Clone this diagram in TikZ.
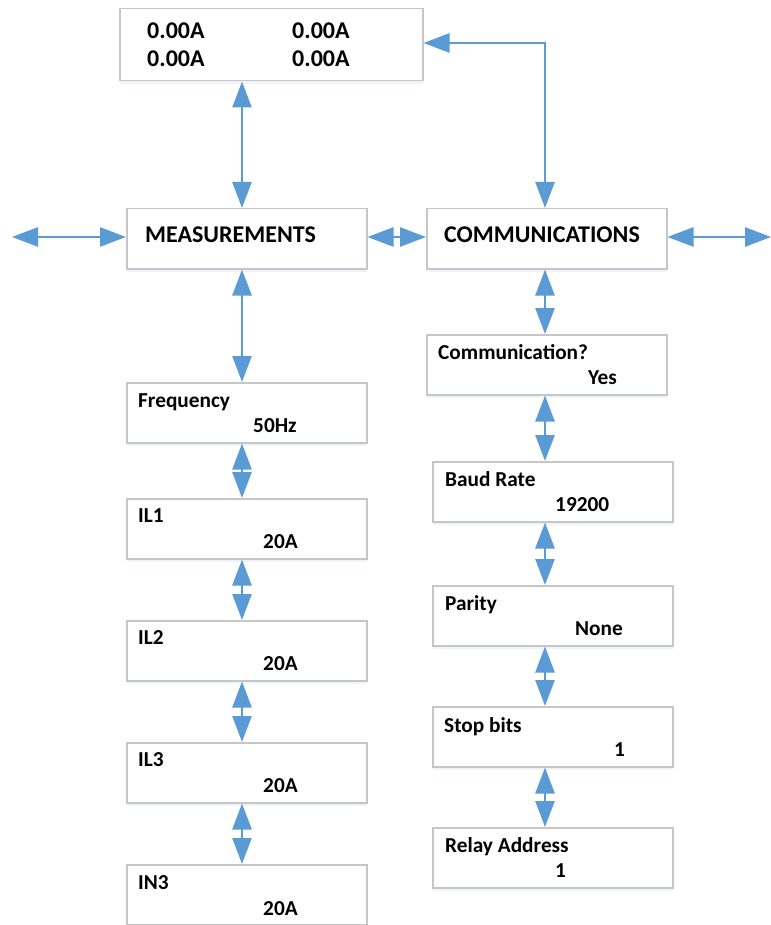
\documentclass[tikz,border=0pt]{standalone}
\usepackage{fontspec}
\setmainfont{Carlito}
\usetikzlibrary{arrows.meta,shadows}
\definecolor{arrowblue}{HTML}{5B9BD5}
\definecolor{boxgray}{HTML}{C6C6C6}
\begin{document}
\begin{tikzpicture}[x=1pt,y=-1pt,
  box/.style={draw=boxgray, line width=1.5pt, fill=white, rectangle, anchor=north west,
    inner sep=0pt, minimum width=240pt, minimum height=60pt,
    drop shadow={shadow xshift=0pt, shadow yshift=-3pt, opacity=0.10, fill=arrowblue}},
  arr/.style={draw=arrowblue, line width=2.6pt,
    {Triangle[length=26pt,width=19pt]}-{Triangle[length=26pt,width=19pt]}},
  lbl/.style={anchor=base west, inner sep=0pt, text=black, font=\fontsize{21.3}{25}\selectfont\bfseries},
  head/.style={anchor=base west, inner sep=0pt, text=black, font=\fontsize{24}{28}\selectfont\bfseries},
  toplbl/.style={anchor=base west, inner sep=0pt, text=black, font=\fontsize{24}{28}\selectfont\bfseries}]
\useasboundingbox (0,0) rectangle (770,925);
\fill[white] (0,0) rectangle (770,925);

\coordinate (lx) at (242,0);
\coordinate (rx) at (545,0);

% display box
\node[box, minimum width=303pt, minimum height=72pt] (disp) at (119,8) {};
\node[toplbl] (d1) at (147,39) {0.00A};
\node[toplbl] (d2) at (292,39) {0.00A};
\node[toplbl] (d3) at (147,67) {0.00A};
\node[toplbl] (d4) at (292,67) {0.00A};

% main menu
\node[box] (meas) at (126,208) {};
\node[head] (measT) at (145,243) {MEASUREMENTS};
\node[box] (comm) at (426,208) {};
\node[head] (commT) at (444,243) {COMMUNICATIONS};

% left column
\node[box] (freq) at (126,382) {};
\node[lbl] (freqA) at (138,407) {Frequency};
\node[lbl] (freqB) at (253,432) {50Hz};
\node[box] (il1) at (126,498) {};
\node[lbl] (il1A) at (138,522) {IL1};
\node[lbl] (il1B) at (263,548) {20A};
\node[box] (il2) at (126,620) {};
\node[lbl] (il2A) at (138,644) {IL2};
\node[lbl] (il2B) at (263,670) {20A};
\node[box] (il3) at (126,742) {};
\node[lbl] (il3A) at (138,766) {IL3};
\node[lbl] (il3B) at (263,792) {20A};
\node[box] (in3) at (126,864) {};
\node[lbl] (in3A) at (138,889) {IN3};
\node[lbl] (in3B) at (263,915) {20A};

% right column
\node[box] (cq) at (426,334) {};
\node[lbl] (cqA) at (438,359) {Communication?};
\node[lbl] (cqB) at (588,384) {Yes};
\node[box] (baud) at (432,461) {};
\node[lbl] (baudA) at (445,486) {Baud Rate};
\node[lbl] (baudB) at (555,511) {19200};
\node[box] (par) at (432,585) {};
\node[lbl] (parA) at (445,610) {Parity};
\node[lbl] (parB) at (575,635) {None};
\node[box] (stop) at (432,706) {};
\node[lbl] (stopA) at (444,732) {Stop bits};
\node[lbl] (stopB) at (614,756) {1};
\node[box] (relay) at (432,827) {};
\node[lbl] (relayA) at (445,852) {Relay Address};
\node[lbl] (relayB) at (555,877) {1};

% free ends
\coordinate (lend) at (12,237);
\coordinate (rend) at (771,237);
\coordinate (corner) at (545,43);

% connectors
\draw[arr] (disp.south -| lx) -- (meas.north -| lx);
\draw[arr] (disp.east |- corner) -- (corner) -- (comm.north -| rx);
\draw[arr] (lend) -- (meas.west |- lend);
\draw[arr] (meas.east |- lend) -- (comm.west |- lend);
\draw[arr] (comm.east |- rend) -- (rend);

\draw[arr] (meas.south -| lx) -- (freq.north -| lx);
\draw[arr] (freq.south -| lx) -- (il1.north -| lx);
\draw[arr] (il1.south -| lx) -- (il2.north -| lx);
\draw[arr] (il2.south -| lx) -- (il3.north -| lx);
\draw[arr] (il3.south -| lx) -- (in3.north -| lx);

\draw[arr] (comm.south -| rx) -- (cq.north -| rx);
\draw[arr] (cq.south -| rx) -- (baud.north -| rx);
\draw[arr] (baud.south -| rx) -- (par.north -| rx);
\draw[arr] (par.south -| rx) -- (stop.north -| rx);
\draw[arr] (stop.south -| rx) -- (relay.north -| rx);
\end{tikzpicture}
\end{document}
